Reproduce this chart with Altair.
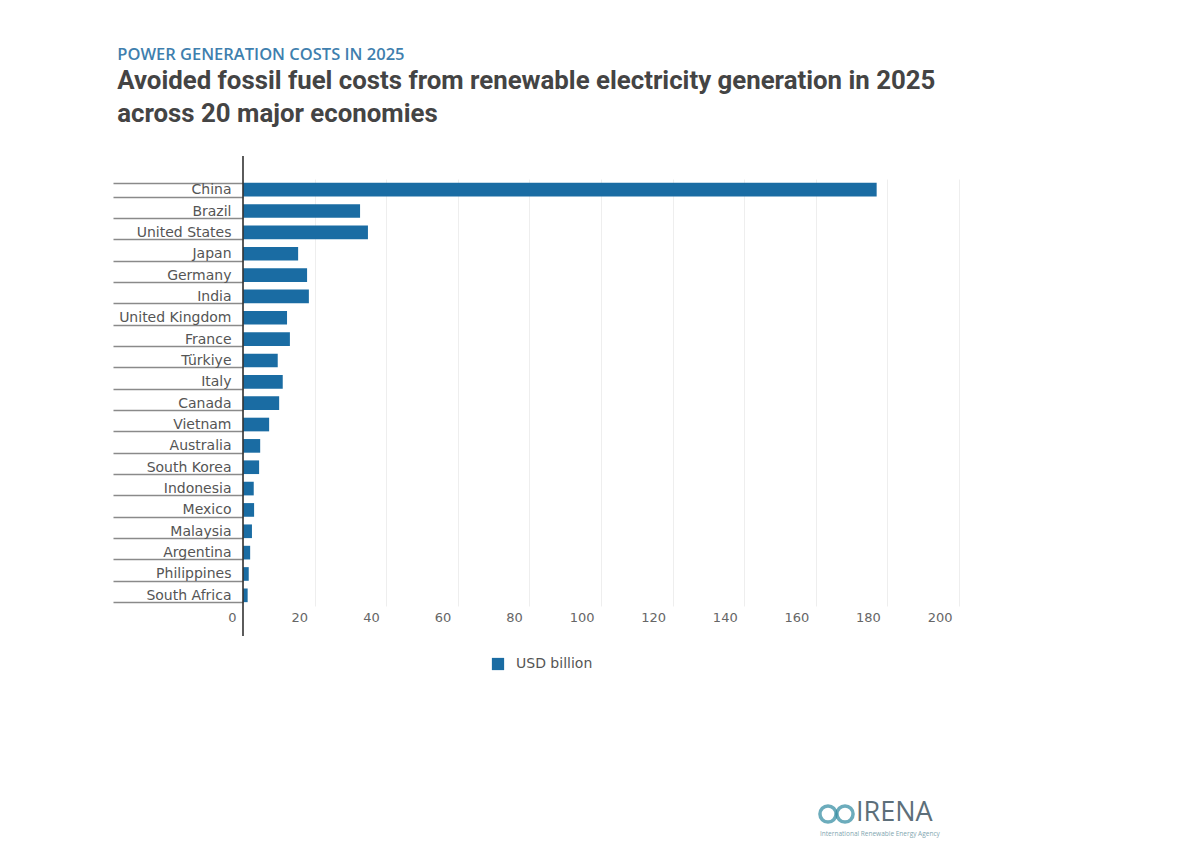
import altair as alt
import pandas as pd

countries = ["China", "Brazil", "United States", "Japan", "Germany", "India",
             "United Kingdom", "France", "Türkiye", "Italy", "Canada", "Vietnam",
             "Australia", "South Korea", "Indonesia", "Mexico", "Malaysia",
             "Argentina", "Philippines", "South Africa"]
values = [177, 32.7, 34.9, 15.4, 17.9, 18.4, 12.3, 13.1, 9.7, 11.1, 10.1, 7.3,
          4.8, 4.5, 3.0, 3.1, 2.5, 2.0, 1.6, 1.3]
x_ticks = [0, 20, 40, 60, 80, 100, 120, 140, 160, 180, 200]
series_name = "USD billion"

kicker = "POWER GENERATION COSTS IN 2025"
title_lines = ["Avoided fossil fuel costs from renewable electricity generation in 2025",
               "across 20 major economies"]

W, H = 716, 427
BLUE = "#1a6ca3"
LABEL_FONT = "DejaVu Sans"

df = pd.DataFrame({"country": countries, "value": values, "series": series_name})

bars = alt.Chart(df).mark_bar(color=BLUE).encode(
    x=alt.X("value:Q", scale=alt.Scale(domain=[0, 200], nice=False),
            axis=alt.Axis(values=x_ticks, title=None, domain=False, ticks=False,
                          grid=True, gridColor="#eeeeee", gridWidth=1,
                          labelAlign="right", labelOffset=-7, labelPadding=5,
                          labelFont=LABEL_FONT, labelFontSize=13, labelColor="#666666")),
    y=alt.Y("country:N", sort=countries,
            scale=alt.Scale(paddingInner=0.36, paddingOuter=0.18),
            axis=alt.Axis(title=None, domain=False, grid=False, tickBand="extent",
                          tickSize=130, tickColor="#8a8a8a", tickWidth=1.5,
                          labelPadding=-118, labelFont=LABEL_FONT, labelFontSize=14,
                          labelColor="#555555")),
    color=alt.Color("series:N", scale=alt.Scale(range=[BLUE]),
                    legend=alt.Legend(title=None, orient="none", legendX=248, legendY=478,
                                      symbolType="square", symbolSize=150,
                                      symbolStrokeWidth=0, symbolOpacity=1,
                                      labelOffset=11,
                                      labelFont=LABEL_FONT, labelFontSize=14,
                                      labelColor="#555555")),
)

zero_df = pd.DataFrame({"v": [0]})
zero_rule = alt.Chart(zero_df).mark_rule(color="#333333", strokeWidth=1.6).encode(
    x="v:Q", y=alt.value(-23), y2=alt.value(H + 30))

logo_df = pd.DataFrame({"name": ["IRENA"], "sub": ["International Renewable Energy Agency"]})
ring1 = alt.Chart(logo_df).mark_point(shape="circle", size=260, strokeWidth=3.5,
                                      color="#2f8aa0", filled=False).encode(
    x=alt.value(585), y=alt.value(635))
ring2 = alt.Chart(logo_df).mark_point(shape="circle", size=260, strokeWidth=3.5,
                                      color="#2f8aa0", filled=False).encode(
    x=alt.value(602), y=alt.value(635))
logo_text = alt.Chart(logo_df).mark_text(align="left", baseline="middle", fontSize=27,
                                         font="Open Sans", color="#5d6f7a").encode(
    x=alt.value(613), y=alt.value(634), text="name:N")
logo_sub = alt.Chart(logo_df).mark_text(align="left", baseline="middle", fontSize=6.5,
                                        font="Open Sans", color="#7fa6b0").encode(
    x=alt.value(577), y=alt.value(655), text="sub:N")

chart = alt.layer(bars, zero_rule, ring1, ring2, logo_text, logo_sub).properties(
    width=W, height=H, background="white",
    padding={"left": 112, "top": 46, "right": 5, "bottom": 5},
    title=alt.TitleParams(
        text=kicker, subtitle=title_lines, anchor="start", frame="bounds", dx=5,
        font="Open Sans", fontSize=16.5, fontWeight=600, color="#3f7fae",
        subtitleFont="Roboto", subtitleFontSize=25.8, subtitleFontWeight="bold",
        subtitleColor="#444444", subtitleLineHeight=33, subtitlePadding=6, offset=28),
).configure_view(strokeWidth=0, stroke="transparent")

chart.save("out.html", embed_options={"renderer": "svg", "actions": False})
